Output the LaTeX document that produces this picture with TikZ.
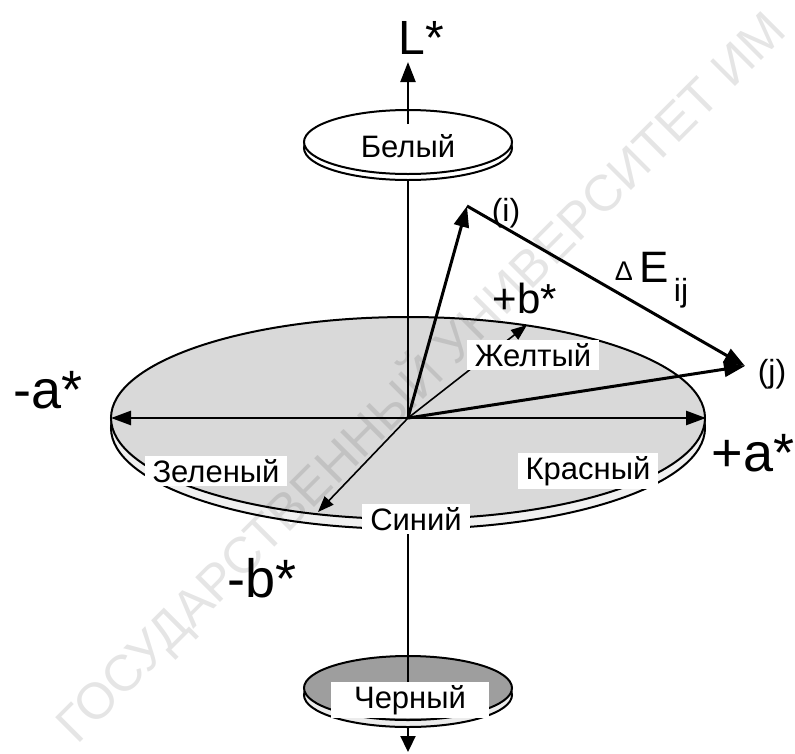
\documentclass[tikz,border=0pt]{standalone}
\usepackage{fontspec}
\setmainfont{Liberation Sans}
\usetikzlibrary{arrows.meta}
\begin{document}
\begin{tikzpicture}[x=1pt,y=-1pt,
  lbl/.style={font=\fontsize{31}{32}\selectfont, inner sep=1pt},
  boxlbl/.style={lbl, fill=white, inner xsep=8pt, inner ysep=3pt},
  big/.style={font=\fontsize{54}{56}\selectfont, inner sep=0pt},
  mid/.style={font=\fontsize{42}{44}\selectfont, inner sep=0pt},
  small/.style={font=\fontsize{32}{33}\selectfont, inner sep=0pt},
  disc/.style={draw=black, line width=2pt},
  vec/.style={line width=3pt, -{Triangle[length=21pt,width=15pt]}},
  axis/.style={line width=2.6pt},
  stem/.style={line width=2.2pt},
  thin/.style={line width=1.6pt}
]
\useasboundingbox (0,0) rectangle (795,753);
\fill[white] (0,0) rectangle (795,753);

% bottom arrow of the black disc
\coordinate (Bot) at (408,752);
\draw[stem,-{Triangle[length=16pt,width=15pt]}] (408,700) -- (Bot);

% main disc
\draw[disc, fill=gray!12] (408,428) ellipse [x radius=297pt, y radius=101pt];
\draw[disc, fill=gray!30] (408,418) ellipse [x radius=297pt, y radius=101pt];

% black disc
\draw[disc, fill=gray!15] (408,695) ellipse [x radius=104pt, y radius=32pt];
\draw[disc, fill=gray!76] (408,688) ellipse [x radius=104pt, y radius=32pt];

% white disc
\draw[disc, fill=white] (408,148) ellipse [x radius=104pt, y radius=32pt];
\draw[disc, fill=white] (408,142) ellipse [x radius=104pt, y radius=32pt];

% coordinates
\coordinate (O) at (408,418);
\coordinate (Ltop) at (408,62);
\coordinate (Lbase) at (408,124);
\coordinate (Wbot) at (408,180);
\coordinate (Mbot) at (408,529);
\coordinate (Btop) at (408,690);
\coordinate (Aleft) at (111,418);
\coordinate (Aright) at (706,418);
\coordinate (Bminus) at (318,512);
\coordinate (Bplus) at (527,325);
\coordinate (I) at (467,206);
\coordinate (J) at (745,366);

% vertical L axis
\draw[stem,-{Triangle[length=20pt,width=15pt]}] (Lbase) -- (Ltop);
\draw[stem] (Wbot) -- (O);
\draw[stem] (Mbot) -- (Btop);

% a axis
\draw[axis,{Triangle[length=20pt,width=14pt]}-{Triangle[length=20pt,width=14pt]}] (Aleft) -- (Aright);
% b axis
\draw[thin,-{Triangle[length=16pt,width=12pt]}] (O) -- (Bminus);
\draw[thin,-{Triangle[length=16pt,width=12pt]}] (O) -- (Bplus);

% vectors
\draw[vec] (O) -- (I);
\draw[vec] (O) -- (J);
\draw[vec] (I) -- (J);

% labels on discs
\node[lbl] (wl) at (408,146) {Белый};
\node[boxlbl, minimum width=158pt, minimum height=34pt] (kl) at (410,700) {Черный};
\node[boxlbl] (yl) at (533,355) {Желтый};
\node[boxlbl] (gl) at (216,471) {Зеленый};
\node[boxlbl] (rl) at (588,471) {Красный};
\node[boxlbl] (sl) at (416,519) {Синий};

% axis labels
\node[font=\fontsize{48}{50}\selectfont, inner sep=0pt] (Lst) at (421,38) {L*};
\node[big] (am) at (48,390) {-a*};
\node[big] (ap) at (753,453) {+a*};
\node[mid] (bp) at (525,298) {+b*};
\node[big] (bm) at (262,578) {-b*};
\node[small] (il) at (506,213) {(i)};
\node[small] (jl) at (772,374) {(j)};
\node[font=\fontsize{27}{28}\selectfont, inner sep=0pt] (dl) at (624,271) {\symbol{"0394}};
\node[font=\fontsize{44}{46}\selectfont, inner sep=0pt] (el) at (654,267) {E};
\node[small] (ijl) at (681,293) {ij};

% watermark
\node[rotate=45, anchor=west, text=black, opacity=0.10,
      font=\fontsize{51}{51}\selectfont] (wm) at (62,735) {ГОСУДАРСТВЕННЫЙ УНИВЕРСИТЕТ ИМ};
\end{tikzpicture}
\end{document}
